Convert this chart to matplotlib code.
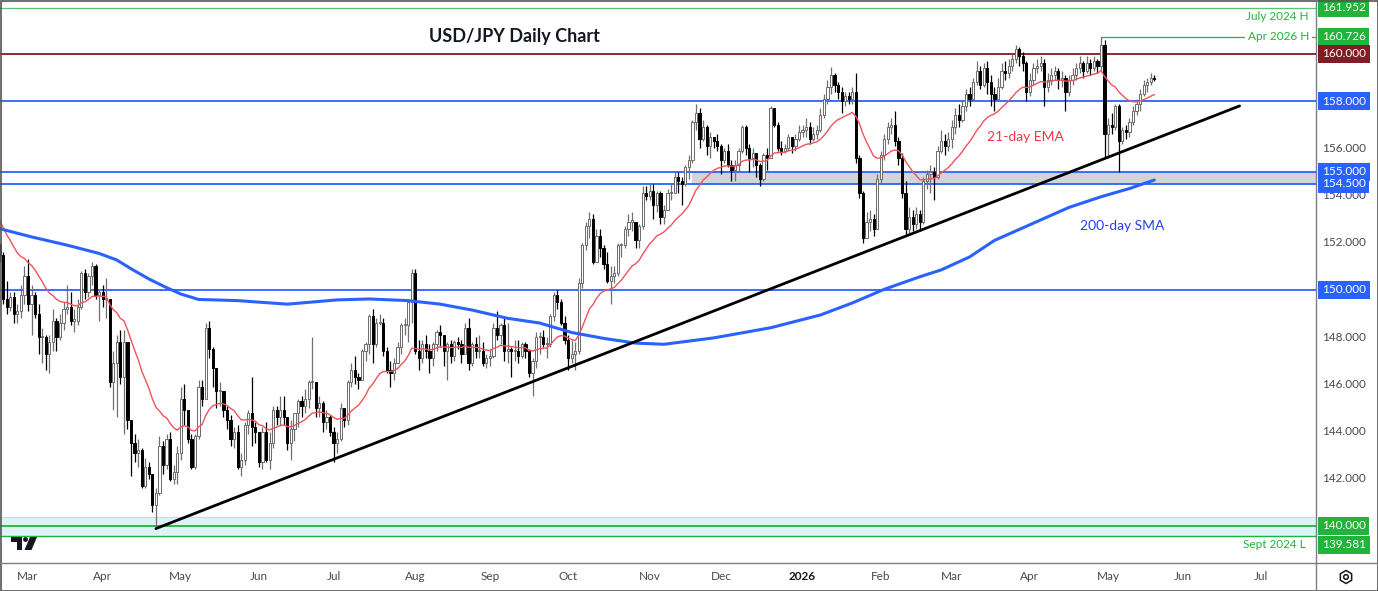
import numpy as np
import pandas as pd
import matplotlib
matplotlib.use("Agg")
import matplotlib.pyplot as plt
from matplotlib.patches import Rectangle, Polygon, Circle, RegularPolygon

plt.rcParams['font.family'] = ['Lato', 'DejaVu Sans']

# ---------------- data (USD/JPY daily) ----------------
start_date = "2025-02-19"
first_open = 151.9

close = [
    151.5, 149.6, 149.3, 149.7, 149.0, 149.1, 149.8, 150.6,  # Feb 25
    149.4, 149.8, 149.0, 148.0, 148.0, 147.3, 147.8, 148.7, 148.0, 148.6, 149.2, 149.3, 148.7, 148.7, 149.3, 150.7, 149.9, 150.6, 151.0, 149.8, 149.9,  # Mar
    149.6, 149.6, 146.1, 146.9, 147.8, 146.3, 147.8, 144.5, 143.5, 143.1, 143.2, 141.7, 142.5, 142.2, 140.9, 141.4, 143.4, 142.6, 143.7, 142.0, 142.3, 143.1,  # Apr
    145.4, 144.9, 143.7, 142.5, 143.8, 145.9, 145.4, 148.4, 147.5, 146.7, 145.7, 145.7, 144.9, 144.5, 143.7, 144.0, 142.5, 142.8, 144.3, 144.8, 144.2, 144.0,  # May
    142.7, 144.0, 142.8, 143.5, 144.9, 144.6, 144.9, 144.6, 143.5, 144.1, 144.8, 145.3, 145.1, 145.4, 146.1, 146.1, 145.0, 145.2, 144.4, 144.6, 144.0,  # Jun
    143.5, 143.7, 145.0, 144.5, 146.1, 146.6, 146.3, 146.2, 147.4, 147.7, 148.9, 147.7, 148.6, 148.6, 147.4, 146.6, 146.5, 146.9, 147.6, 148.5, 148.5, 149.5, 150.7,  # Jul
    147.4, 147.1, 147.7, 147.4, 147.1, 147.7, 148.2, 148.1, 147.4, 147.7, 147.2, 147.8, 147.7, 147.3, 148.4, 146.9, 147.7, 147.4, 147.4, 146.9, 147.1,  # Aug
    147.2, 148.4, 148.1, 148.5, 147.4, 147.5, 147.4, 147.4, 147.2, 147.7, 147.4, 146.5, 147.0, 148.0, 148.0, 147.7, 147.7, 148.9, 149.8, 149.5, 148.6, 147.9,  # Sep
    147.1, 147.3, 147.4, 150.3, 151.9, 152.7, 153.0, 151.2, 152.3, 151.8, 151.1, 150.4, 150.6, 150.7, 151.9, 151.9, 152.6, 152.9, 152.9, 152.1, 152.7, 154.1, 154.0,  # Oct
    154.2, 153.6, 154.1, 153.1, 153.4, 154.1, 154.1, 154.8, 154.6, 154.5, 155.2, 155.5, 157.1, 157.5, 156.4, 156.9, 156.1, 156.5, 156.3, 156.1,  # Nov
    155.5, 155.9, 155.3, 155.1, 155.3, 155.9, 156.9, 156.0, 155.6, 155.8, 155.3, 154.7, 155.7, 155.6, 157.7, 157.0, 156.0, 155.9, 156.0, 156.5, 156.1, 156.4, 156.7,  # Dec
    156.8, 156.9, 156.4, 156.6, 156.8, 157.4, 158.1, 158.6, 159.1, 158.7, 158.4, 158.0, 158.2, 158.1, 158.4, 155.6, 154.1, 152.2, 152.9, 153.0, 152.6, 154.7,  # Jan 26
    155.7, 156.4, 156.9, 157.0, 156.3, 155.6, 154.1, 152.6, 153.1, 152.8, 153.2, 152.9, 154.6, 154.9, 155.0, 154.8, 155.9, 156.3, 156.1, 156.4,  # Feb
    156.9, 157.4, 157.2, 157.8, 158.3, 158.1, 158.8, 159.3, 158.7, 159.4, 158.8, 158.3, 158.1, 158.6, 159.3, 159.2, 159.5, 159.8, 160.2, 159.9, 159.6, 158.4,  # Mar
    158.9, 159.4, 159.5, 159.6, 158.6, 158.9, 159.1, 159.3, 158.9, 159.0, 158.4, 158.9, 159.1, 159.4, 159.6, 159.3, 159.6, 159.4, 159.7, 159.5, 160.4, 156.6,  # Apr
    157.0, 156.9, 157.8, 156.3, 156.8, 156.7, 157.1, 157.6, 157.9, 158.3, 158.7, 158.8, 159.0, 158.95,  # May
]
high = [
    152.0, 151.6, 150.4, 149.9, 149.9, 149.4, 150.2, 151.0,
    151.3, 150.2, 149.9, 149.4, 148.4, 148.1, 148.1, 149.2, 148.8, 149.0, 149.5, 150.2, 149.9, 149.2, 149.6, 150.8, 150.9, 150.7, 151.2, 151.1, 150.0,
    150.2, 150.5, 149.3, 147.4, 148.1, 148.3, 148.3, 147.8, 144.4, 143.9, 143.7, 143.3, 142.9, 142.7, 142.2, 141.6, 143.8, 143.6, 143.9, 144.0, 142.6, 143.4,
    145.9, 146.0, 144.9, 143.9, 143.9, 146.2, 146.2, 148.6, 148.7, 147.6, 146.6, 146.1, 145.6, 145.1, 144.7, 144.2, 144.3, 143.1, 144.4, 144.9, 146.3, 144.4,
    144.0, 144.2, 144.4, 144.0, 145.1, 145.1, 145.5, 145.5, 144.6, 144.5, 144.8, 145.4, 145.5, 145.8, 146.2, 148.0, 146.1, 145.5, 145.3, 144.9, 144.7,
    144.2, 144.0, 145.2, 145.0, 146.2, 146.9, 147.2, 146.5, 147.5, 147.8, 149.0, 149.2, 148.8, 149.0, 148.8, 147.6, 147.0, 147.1, 147.8, 148.6, 148.8, 149.5, 150.9,
    150.9, 147.9, 147.9, 148.1, 147.7, 147.8, 148.3, 148.5, 148.0, 147.8, 147.9, 147.9, 148.0, 147.9, 148.6, 148.8, 147.8, 148.0, 148.1, 147.8, 147.3,
    147.5, 148.6, 149.1, 148.6, 148.8, 148.6, 147.6, 147.9, 147.9, 147.8, 147.8, 147.5, 147.1, 148.2, 148.2, 148.3, 148.0, 149.0, 149.9, 150.0, 149.6, 148.9,
    148.1, 147.9, 147.8, 150.5, 152.0, 152.9, 153.3, 153.2, 152.6, 152.6, 151.9, 151.6, 151.0, 151.0, 152.0, 152.0, 152.7, 153.2, 153.3, 152.9, 152.8, 154.4, 154.4,
    154.5, 154.5, 154.2, 154.2, 153.6, 154.3, 154.5, 155.0, 155.0, 154.8, 155.3, 155.7, 157.2, 157.9, 157.7, 157.2, 157.0, 156.7, 156.5, 156.6,
    156.2, 156.0, 156.2, 155.5, 155.5, 156.0, 157.0, 157.0, 156.2, 156.0, 155.8, 155.4, 155.8, 156.0, 157.8, 157.7, 157.1, 156.3, 156.2, 156.6, 156.5, 156.6, 157.0,
    157.0, 157.3, 157.1, 156.9, 157.0, 157.7, 158.3, 158.9, 159.45, 159.2, 158.8, 158.6, 158.4, 158.4, 158.6, 159.2, 155.7, 154.2, 153.3, 153.4, 153.2, 154.9,
    155.9, 156.6, 157.1, 157.3, 157.6, 156.5, 155.8, 154.6, 153.5, 153.4, 153.5, 153.4, 154.8, 155.1, 155.3, 155.2, 156.1, 156.8, 156.6, 156.7,
    157.2, 157.7, 157.9, 158.0, 158.5, 158.6, 159.0, 159.7, 159.5, 159.6, 159.7, 159.1, 158.6, 159.0, 159.6, 159.7, 159.8, 160.0, 160.4, 160.3, 160.1, 159.7,
    159.2, 159.6, 159.8, 159.9, 159.8, 159.2, 159.4, 159.5, 159.4, 159.3, 159.1, 159.1, 159.4, 159.6, 159.9, 159.7, 159.9, 159.8, 159.9, 159.8, 160.73, 160.6,
    157.3, 157.5, 157.9, 157.9, 156.9, 157.0, 157.3, 157.8, 158.1, 158.5, 158.9, 159.0, 159.2, 159.1,
]
low = [
    151.2, 149.4, 149.0, 149.1, 148.6, 148.6, 148.8, 149.4,
    149.1, 148.1, 148.8, 147.3, 146.9, 146.6, 146.5, 147.4, 147.4, 147.9, 148.3, 149.0, 148.5, 148.2, 148.5, 149.2, 149.6, 149.7, 150.2, 149.6, 148.7,
    149.3, 148.8, 145.9, 144.9, 144.6, 146.0, 143.9, 144.1, 142.1, 142.7, 142.5, 141.6, 141.6, 142.0, 140.6, 139.9, 141.3, 142.2, 142.4, 141.9, 141.8, 141.8,
    142.8, 144.3, 143.5, 142.4, 142.4, 143.7, 145.1, 145.5, 147.1, 145.9, 145.0, 145.1, 144.6, 144.1, 143.4, 143.3, 142.4, 142.1, 142.6, 143.9, 143.4, 143.5,
    142.5, 142.4, 142.7, 142.4, 143.3, 144.3, 144.3, 144.3, 143.2, 142.8, 143.6, 144.2, 144.6, 144.8, 145.0, 145.8, 144.6, 144.6, 144.0, 144.1, 143.8,
    142.7, 143.1, 143.6, 144.2, 144.3, 145.9, 146.0, 145.8, 146.2, 147.0, 147.3, 146.9, 147.6, 148.5, 147.2, 146.5, 145.9, 146.2, 146.9, 147.3, 148.1, 147.8, 148.6,
    147.3, 146.6, 146.9, 147.1, 146.5, 146.8, 147.4, 147.6, 146.8, 146.2, 146.9, 147.0, 147.5, 146.9, 147.3, 146.6, 146.8, 147.1, 147.1, 146.8, 146.7,
    146.8, 147.1, 147.9, 147.7, 147.0, 146.9, 146.3, 147.0, 146.9, 147.1, 147.1, 146.3, 145.5, 146.7, 147.3, 147.6, 147.1, 147.6, 148.7, 149.2, 148.5, 147.7,
    146.6, 146.9, 146.6, 147.3, 150.1, 151.7, 152.2, 151.1, 151.4, 151.4, 150.9, 150.3, 149.4, 150.3, 150.6, 151.4, 151.8, 152.3, 152.5, 151.8, 151.8, 152.6, 153.8,
    153.8, 153.0, 153.3, 152.8, 152.8, 153.4, 153.8, 154.1, 154.1, 153.6, 154.4, 154.7, 155.4, 156.8, 156.0, 156.3, 155.7, 155.6, 156.0, 155.9,
    154.9, 155.4, 155.2, 154.6, 154.6, 155.0, 155.8, 155.7, 155.0, 155.2, 154.8, 154.4, 154.6, 155.1, 155.6, 156.9, 155.9, 155.7, 155.8, 155.9, 155.8, 155.9, 156.3,
    156.5, 156.5, 156.2, 156.3, 156.4, 156.7, 157.3, 157.9, 158.3, 158.4, 158.1, 157.5, 157.8, 157.9, 157.9, 155.4, 153.9, 152.0, 152.3, 152.5, 152.3, 152.8,
    154.5, 155.5, 156.2, 156.6, 156.1, 155.3, 153.9, 152.3, 152.4, 152.5, 152.6, 152.5, 152.8, 154.3, 154.1, 153.8, 154.7, 155.8, 155.7, 155.9,
    156.0, 156.6, 156.9, 157.1, 157.6, 157.8, 158.0, 158.7, 158.5, 158.6, 158.3, 157.8, 157.6, 158.1, 158.5, 158.9, 159.0, 159.3, 159.6, 159.5, 159.3, 158.0,
    158.2, 158.7, 159.2, 159.3, 157.8, 158.4, 158.7, 158.9, 158.5, 158.6, 157.6, 158.2, 158.7, 158.9, 159.2, 159.0, 159.2, 159.1, 159.3, 159.2, 159.3, 155.6,
    155.6, 156.6, 156.8, 155.0, 156.2, 156.4, 156.5, 157.0, 157.4, 157.6, 158.2, 158.4, 158.7, 158.85,
]

ema_seed = 153.1  # 21-day EMA value just before the first visible bar

# 200-day SMA
sma_dates = ['2025-02-19', '2025-03-04', '2025-03-18', '2025-03-31', '2025-04-07', '2025-04-11',
             '2025-04-18', '2025-04-25', '2025-05-01', '2025-05-08', '2025-05-23', '2025-06-12',
             '2025-07-02', '2025-07-15', '2025-07-30', '2025-08-12', '2025-08-25', '2025-09-08',
             '2025-09-19', '2025-10-02', '2025-10-15', '2025-10-28', '2025-11-07', '2025-11-27',
             '2025-12-19', '2026-01-08', '2026-01-21', '2026-02-03', '2026-02-17', '2026-02-25',
             '2026-03-09', '2026-03-18', '2026-04-03', '2026-04-16', '2026-04-29', '2026-05-11',
             '2026-05-20']
sma_values = [152.6, 152.25, 151.9, 151.55, 151.27, 150.9, 150.47, 150.1, 149.83, 149.6, 149.55, 149.4,
              149.58, 149.62, 149.55, 149.4, 149.15, 148.8, 148.6, 148.2, 147.95, 147.75, 147.7, 147.97,
              148.4, 148.94, 149.45, 150.03, 150.56, 150.85, 151.4, 152.1, 152.9, 153.5, 153.95, 154.3,
              154.66]

# trend line anchors
trend_dates = ['2025-04-22', '2026-06-23']
trend_values = [139.89, 157.8]

month_dates = ['2025-03-03', '2025-04-01', '2025-05-01', '2025-06-02', '2025-07-01', '2025-08-01',
               '2025-09-01', '2025-10-01', '2025-11-03', '2025-12-01', '2026-01-01', '2026-02-02',
               '2026-03-02', '2026-04-01', '2026-05-01', '2026-06-01', '2026-07-01']
month_labels = ['Mar', 'Apr', 'May', 'Jun', 'Jul', 'Aug', 'Sep', 'Oct', 'Nov', 'Dec', '2026',
                'Feb', 'Mar', 'Apr', 'May', 'Jun', 'Jul']

price_ticks = [142, 144, 146, 148, 152, 154, 156]

# ---------------- setup ----------------
assert len(close) == len(high) == len(low)
days = pd.bdate_range(start_date, '2026-08-31')
n = len(close)

def pos(d):
    return days.get_loc(pd.Timestamp(d))

x = np.arange(n)
c = np.array(close)
h = np.array(high)
l = np.array(low)
o = np.concatenate([[first_open], c[:-1]])

W, H = 1378, 591
fig = plt.figure(figsize=(W / 100, H / 100), dpi=100)
fig.patch.set_facecolor('white')
ax = fig.add_axes([0, 28 / H, 1316 / W, 563 / H])
ax.set_facecolor('white')

px_per_day = 3.553
x0 = pos('2025-03-03') - 28 / px_per_day
ax.set_xlim(x0, x0 + 1316 / px_per_day)
ax.set_ylim(138.432, 162.288)
for s in ax.spines.values():
    s.set_visible(False)
ax.set_yticks([])

xr = ax.get_xlim()

# bands
ax.axhspan(139.581, 140.38, color='#dcf3f8', zorder=0.5, lw=0)
ax.axhline(140.38, color='#cfd8dc', lw=0.8, zorder=0.6)
band_start = pos('2025-11-19')
ax.fill_between([band_start, xr[1]], 154.5, 155.0, color='#d4d4d4', zorder=0.5, lw=0)

# horizontal levels
blue = '#2962ff'
green = '#22b33a'
dred = '#7f1d22'
ax.axhline(161.952, color='#5cc46a', lw=0.9, zorder=1)
ax.plot([pos('2026-04-29'), xr[1]], [160.726, 160.726], color=green, lw=0.9, zorder=1)
ax.axhline(160.0, color=dred, lw=1.3, zorder=1)
for lv in (158.0, 155.0, 154.5, 150.0):
    ax.axhline(lv, color=blue, lw=1.3, zorder=1)
ax.axhline(140.0, color=green, lw=1.3, zorder=1)
ax.axhline(139.581, color=green, lw=1.0, zorder=1)

# candles
up = c >= o
wick_col = np.where(up, '#707070', '#000000')
ax.vlines(x, l, h, colors=wick_col, lw=0.9, zorder=2)
body_lo = np.minimum(o, c)
body_h = np.maximum(np.abs(c - o), 0.05)
ax.bar(x[up], body_h[up], bottom=body_lo[up], width=0.62, color='white',
       edgecolor='#6a6a6a', linewidth=0.7, zorder=3)
ax.bar(x[~up], body_h[~up], bottom=body_lo[~up], width=0.62, color='#000000',
       edgecolor='#000000', linewidth=0.7, zorder=3)

# 21-day EMA
ema = pd.Series([ema_seed] + list(close)).ewm(span=21, adjust=False).mean().values[1:]
ax.plot(x, ema, color='#f0535a', lw=1.0, zorder=4)

# 200-day SMA
ax.plot([pos(d) for d in sma_dates], sma_values, color=blue, lw=2.2, zorder=4,
        solid_capstyle='round', solid_joinstyle='round')

# trend line
ax.plot([pos(d) for d in trend_dates], trend_values, color='black', lw=2.0, zorder=5,
        solid_capstyle='round')

# labels on chart
ax.text(0.391, 0.936, 'USD/JPY Daily Chart', transform=ax.transAxes, ha='center', va='center',
        fontsize=13, fontweight='bold', color='#131722')
ax.text(pos('2026-03-16'), 156.48, '21-day EMA', color='#f23645', fontsize=10, va='center', ha='left')
ax.text(pos('2026-04-21'), 152.71, '200-day SMA', color='#2a3ef5', fontsize=10, va='center', ha='left')

ax.annotate('July 2024 H', xy=(1, 161.952), xycoords=('axes fraction', 'data'),
            xytext=(-5.5, -6.5), textcoords='offset points', ha='right', va='center',
            color=green, fontsize=8.5)
ax.annotate('Apr 2026 H', xy=(1, 160.726), xycoords=('axes fraction', 'data'),
            xytext=(-5, 0), textcoords='offset points', ha='right', va='center',
            color=green, fontsize=8.5,
            bbox=dict(boxstyle='square,pad=0.25', fc='white', ec='none'))
ax.annotate('Sept 2024 L', xy=(1, 139.581), xycoords=('axes fraction', 'data'),
            xytext=(-7.5, -6.5), textcoords='offset points', ha='right', va='center',
            color=green, fontsize=8.5)

# right price axis
for p in price_ticks:
    ax.annotate(f'{p:.3f}', xy=(1, p), xycoords=('axes fraction', 'data'),
                xytext=(4.3, 0), textcoords='offset points', ha='left', va='center',
                color='#4a4a4a', fontsize=8.5, annotation_clip=False)

boxes = [(161.952, green, 0), (160.726, green, 0), (160.0, dred, 0), (158.0, blue, 0),
         (155.0, blue, 0), (154.5, blue, 0), (150.0, blue, 0), (140.0, green, 0),
         (139.581, green, -6.5)]
for p, col, dy in boxes:
    ax.annotate(f'{p:.3f}', xy=(1, p), xycoords=('axes fraction', 'data'),
                xytext=(4.3, dy), textcoords='offset points', ha='left', va='center',
                color='white', fontsize=8.5, annotation_clip=False,
                bbox=dict(boxstyle='square,pad=0.3', fc=col, ec='none'))

# time axis
ax.set_xticks([pos(d) for d in month_dates])
ax.set_xticklabels(month_labels)
ax.tick_params(axis='x', length=0, pad=6, labelsize=8.5, labelcolor='#4a4a4a')
for lab in ax.get_xticklabels():
    if lab.get_text() == '2026':
        lab.set_fontweight('bold')
        lab.set_color('#131722')

# overlay: frame, separators, logo, settings icon
ov = fig.add_axes([0, 0, 1, 1], zorder=10)
ov.set_xlim(0, W)
ov.set_ylim(H, 0)
ov.axis('off')
ov.patch.set_alpha(0)
ov.add_patch(Rectangle((0.5, 0.5), W - 1, H - 1, fill=False, ec='#555555', lw=1.2))
ov.plot([1316, 1316], [0, H], color='#7a7d86', lw=1.0)
ov.plot([0, W], [563, 563], color='#7a7d86', lw=1.0)
ov.add_patch(Polygon([(11, 537), (22, 537), (22, 550), (17, 550), (17, 542), (11, 542)],
                     closed=True, fc='#131722', ec='none'))
ov.add_patch(Circle((25.5, 539.5), 2.4, fc='#131722', ec='none'))
ov.add_patch(Polygon([(30, 537), (37, 537), (31.5, 550), (24.5, 550)], closed=True,
                     fc='#131722', ec='none'))
ov.add_patch(RegularPolygon((1346, 577), numVertices=6, radius=6.5, orientation=0,
                            fill=False, ec='#131722', lw=1.1))
ov.add_patch(Circle((1346, 577), 2.3, fill=False, ec='#131722', lw=1.1))

fig.savefig('out.png', dpi=100, facecolor='white')
